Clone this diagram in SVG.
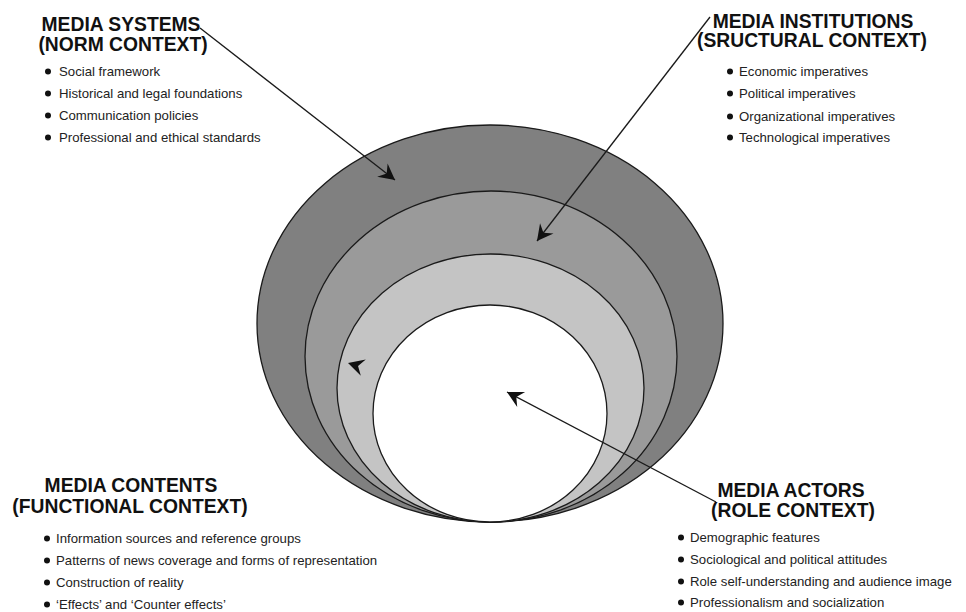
<svg xmlns="http://www.w3.org/2000/svg" width="966" height="612" viewBox="0 0 966 612">
<style>
.h{font-family:"Liberation Sans",Arial,sans-serif;font-weight:bold;font-size:19.3px;fill:#111;text-anchor:middle}
.b{font-family:"Liberation Sans",Arial,sans-serif;font-size:13.2px;fill:#222}
.ring{stroke:#1a1a1a;stroke-width:1.3}
.conn{stroke:#1a1a1a;stroke-width:1.3;fill:none;marker-end:url(#ah)}
.dot{fill:#111}
</style>
<defs>
<marker id="ah" viewBox="-17 -10 18 20" refX="0" refY="0" markerWidth="18" markerHeight="20" markerUnits="userSpaceOnUse" orient="auto">
<path d="M0,0 L-16,-8.5 L-10.5,0 L-16,8.5 Z" fill="#111"/>
</marker>
</defs>
<rect width="966" height="612" fill="#fff"/>
<g id="rings">
<ellipse id="ring-systems" class="ring" cx="490" cy="323.5" rx="233" ry="198.5" fill="#808080"/>
<ellipse id="ring-institutions" class="ring" cx="491" cy="356.5" rx="186" ry="165.5" fill="#9a9a9a"/>
<ellipse id="ring-contents" class="ring" cx="490.5" cy="388" rx="153.5" ry="134" fill="#c4c4c4"/>
<ellipse id="ring-actors" class="ring" cx="490" cy="413.5" rx="117" ry="108.5" fill="#fff"/>
</g>
<g id="connectors">
<line class="conn" x1="200" y1="28" x2="395" y2="180"/>
<line class="conn" x1="710" y1="17" x2="537" y2="241"/>
<line class="conn" x1="716" y1="502" x2="507" y2="392"/>
<path d="M0,0 L-16,-8.5 L-10.5,0 L-16,8.5 Z" fill="#111" transform="translate(348,363) rotate(197)"/>
</g>
<g id="media-systems">
<text class="h" x="121" y="31">MEDIA SYSTEMS</text>
<text class="h" x="123" y="51">(NORM CONTEXT)</text>
<circle class="dot" cx="48" cy="71.5" r="3"/><text class="b" x="59" y="76">Social framework</text>
<circle class="dot" cx="48" cy="93.5" r="3"/><text class="b" x="59" y="98">Historical and legal foundations</text>
<circle class="dot" cx="48" cy="115.5" r="3"/><text class="b" x="59" y="120">Communication policies</text>
<circle class="dot" cx="48" cy="137.5" r="3"/><text class="b" x="59" y="142">Professional and ethical standards</text>
</g>
<g id="media-institutions">
<text class="h" x="813" y="28">MEDIA INSTITUTIONS</text>
<text class="h" x="812" y="47">(SRUCTURAL CONTEXT)</text>
<circle class="dot" cx="730" cy="71.5" r="3"/><text class="b" x="739" y="76">Economic imperatives</text>
<circle class="dot" cx="730" cy="93.5" r="3"/><text class="b" x="739" y="98">Political imperatives</text>
<circle class="dot" cx="730" cy="116.5" r="3"/><text class="b" x="739" y="121">Organizational imperatives</text>
<circle class="dot" cx="730" cy="137.5" r="3"/><text class="b" x="739" y="142">Technological imperatives</text>
</g>
<g id="media-contents">
<text class="h" x="131" y="492">MEDIA CONTENTS</text>
<text class="h" x="130" y="513">(FUNCTIONAL CONTEXT)</text>
<circle class="dot" cx="47" cy="538.5" r="3"/><text class="b" x="56" y="543">Information sources and reference groups</text>
<circle class="dot" cx="47" cy="560.5" r="3"/><text class="b" x="56" y="565">Patterns of news coverage and forms of representation</text>
<circle class="dot" cx="47" cy="582.5" r="3"/><text class="b" x="56" y="587">Construction of reality</text>
<circle class="dot" cx="47" cy="604.5" r="3"/><text class="b" x="56" y="609">‘Effects’ and ‘Counter effects’</text>
</g>
<g id="media-actors">
<text class="h" x="791" y="497">MEDIA ACTORS</text>
<text class="h" x="793" y="517">(ROLE CONTEXT)</text>
<circle class="dot" cx="681" cy="537.5" r="3"/><text class="b" x="690" y="542">Demographic features</text>
<circle class="dot" cx="681" cy="559.5" r="3"/><text class="b" x="690" y="564">Sociological and political attitudes</text>
<circle class="dot" cx="681" cy="581.5" r="3"/><text class="b" x="690" y="586">Role self-understanding and audience image</text>
<circle class="dot" cx="681" cy="602.5" r="3"/><text class="b" x="690" y="607">Professionalism and socialization</text>
</g>
</svg>
